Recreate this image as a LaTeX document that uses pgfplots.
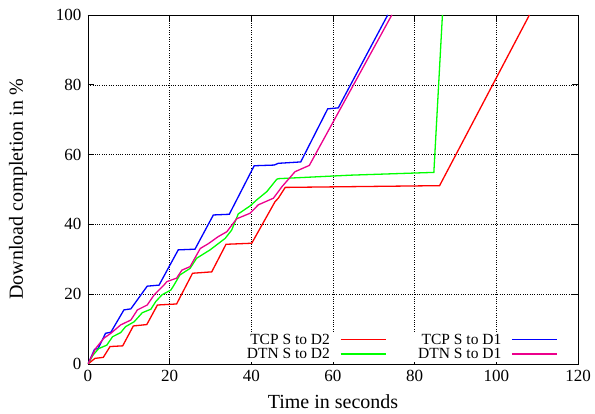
\documentclass[border=0pt]{standalone}
\usepackage{fontspec}
\setmainfont{Liberation Serif}
\usepackage{pgfplots}
\pgfplotsset{compat=1.18}

\newcommand{\tickfont}{\fontsize{17}{19}\selectfont}
\newcommand{\labelfont}{\fontsize{20}{22}\selectfont}
\newcommand{\keyfont}{\fontsize{15.5}{16}\selectfont}

\begin{document}
\begin{tikzpicture}
\begin{axis}[
    scale only axis,
    width=490pt, height=349pt,
    xmin=0, xmax=120, ymin=0, ymax=100,
    xtick={0,20,...,120}, ytick={0,20,...,100},
    grid=major,
    grid style={black, dash pattern=on 0.7pt off 1.6pt, line width=0.4pt},
    major tick length=6pt,
    tick style={black, line width=0.6pt},
    axis line style={line width=0.8pt},
    xlabel={Time in seconds},
    ylabel={Download completion in \%},
    tick label style={font=\tickfont},
    xticklabel style={yshift=-3pt},
    yticklabel style={xshift=-3pt},
    label style={font=\labelfont},
    xlabel style={yshift=-6pt},
    ylabel style={yshift=22pt},
    /pgf/number format/assume math mode=true,
    legend columns=2,
    legend plot pos=right,
    legend cell align=right,
    legend style={draw=none, fill=white, font=\keyfont,
        at={(0.965,0.005)}, anchor=south east, row sep=2pt,
        nodes={inner ysep=0.2pt},
        /tikz/every odd column/.append style={column sep=8pt},
        /tikz/every even column/.append style={column sep=30pt}},
    legend image code/.code={\draw[#1] (0pt,0pt) -- (45pt,0pt);},
    every axis plot/.append style={line width=1.3pt},
]
% TCP S to D2
\addplot[red] coordinates {
(0,0) (1.7,1.6) (3.75,1.9) (5.4,5) (8.5,5.2) (11.1,10.9) (14.4,11.3)
(17,16.9) (21.7,17.2) (25.6,26) (30.3,26.4) (33.8,34.3) (40.1,34.6)
(45.8,46.5) (46.6,47.5) (48.3,50.6) (86.1,51.1) (108.1,100)};
\addlegendentry{TCP S to D2}
% TCP S to D1
\addplot[blue] coordinates {
(0,0) (1.6,4.2) (2.45,4.4) (4.3,8.8) (5.6,9.1) (8.8,15.5) (10.5,15.8)
(14.5,22.3) (17.4,22.6) (22.1,32.7) (26.2,32.9) (30.7,42.7) (34.6,42.9)
(40.7,56.8) (45.6,57.0) (46.6,57.5) (52.1,57.9) (58.7,73.1) (61.3,73.4) (73.4,100)};
\addlegendentry{TCP S to D1}
% DTN S to D2
\addplot[green] coordinates {
(0,0) (1.2,2.5) (2.6,4.4) (4.6,5.4) (6,7.8) (8,9) (9.2,10.7) (11.3,12.1)
(13.3,14.7) (15.4,15.7) (16.6,17.9) (18.1,19.8) (20.3,21.2) (20.9,22.3)
(22.5,25.5) (25,27.4) (26.6,30.3) (29.9,32.7) (33.6,36) (35.2,38.4)
(36.8,43) (39.7,45.3) (41.3,47) (43.8,49.4) (46.2,52.9) (46.6,53.1)
(64.2,54.1) (84.7,54.9) (86.8,100)};
\addlegendentry{DTN S to D2}
% DTN S to D1
\addplot[magenta] coordinates {
(0,0) (1.9,4.5) (3.9,7.4) (5.6,8.8) (8,11.2) (10.5,12.6) (12.1,15.5)
(14.5,16.9) (16.2,19.8) (18.6,22.6) (19.3,23.6) (21.7,24.6) (23,26.9)
(25,27.9) (27.5,33.1) (29.5,34.5) (31.9,36.5) (34,37.9) (36.4,41.6)
(39.7,43.2) (41.7,45.6) (45.4,47.5) (47.5,50.8) (50.7,55.1) (54.2,56.9) (74.4,100)};
\addlegendentry{DTN S to D1}
\end{axis}
\pgfresetboundingbox
\path[use as bounding box] ([xshift=-88pt,yshift=-50pt]current axis.south west)
    rectangle ([xshift=17pt,yshift=15pt]current axis.north east);
\end{tikzpicture}
\end{document}
